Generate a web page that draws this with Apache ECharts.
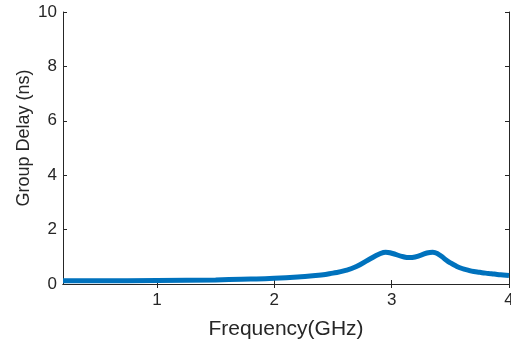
<!DOCTYPE html>
<html>
<head>
<meta charset="utf-8">
<script src="https://cdn.jsdelivr.net/npm/echarts@6/dist/echarts.min.js"></script>
<style>
  html, body { margin: 0; padding: 0; background: #fff; }
  #chart { width: 511px; height: 347px; }
</style>
</head>
<body>
<div id="chart"></div>
<script>
// Group delay of the filter versus frequency
const frequencyGHz = [0.2, 0.5, 1.0, 1.5, 1.8, 2.0, 2.2, 2.4, 2.5, 2.6, 2.7, 2.8, 2.9, 2.95, 3.0, 3.1, 3.15, 3.2, 3.3, 3.35, 3.4, 3.45, 3.5, 3.55, 3.6, 3.65, 3.7, 3.75, 3.8, 3.85, 3.9, 3.95, 4.0];
const groupDelayNs = [0.12, 0.12, 0.13, 0.15, 0.18, 0.21, 0.26, 0.33, 0.40, 0.49, 0.64, 0.88, 1.11, 1.17, 1.13, 1.00, 0.97, 0.99, 1.14, 1.17, 1.09, 0.93, 0.78, 0.66, 0.57, 0.51, 0.46, 0.43, 0.40, 0.38, 0.35, 0.33, 0.31];

const xTicks = [1, 2, 3, 4];
const yTicks = [0, 2, 4, 6, 8, 10];

const points = frequencyGHz.map((f, i) => [f, groupDelayNs[i]]);

const ink = '#262626';
const font = '"Liberation Sans", Arial, sans-serif';

const chart = echarts.init(document.getElementById('chart'), null, { renderer: 'canvas' });

const boxLine = { show: true, lineStyle: { color: ink, width: 1 } };
const innerTick = (vals) => ({ show: true, inside: true, length: 4, customValues: vals, lineStyle: { color: ink } });

chart.setOption({
  animation: false,
  backgroundColor: '#fff',
  grid: { left: 63, right: 2, top: 12, bottom: 63, containLabel: false, outerBoundsMode: 'none' },
  xAxis: [
    {
      type: 'value', min: 0.2, max: 4, position: 'bottom',
      axisLine: boxLine,
      axisTick: innerTick(xTicks),
      axisLabel: { customValues: xTicks, color: ink, fontFamily: font, fontSize: 17, margin: 8 },
      splitLine: { show: false },
      name: 'Frequency(GHz)', nameLocation: 'middle', nameGap: 35, nameMoveOverlap: false,
      nameTextStyle: { color: ink, fontFamily: font, fontSize: 21 }
    },
    {
      type: 'value', min: 0.2, max: 4, position: 'top',
      axisLine: boxLine,
      axisTick: innerTick(xTicks),
      axisLabel: { show: false },
      splitLine: { show: false }
    }
  ],
  yAxis: [
    {
      type: 'value', min: 0, max: 10, interval: 2, position: 'left',
      axisLine: boxLine,
      axisTick: innerTick(yTicks),
      axisLabel: { customValues: yTicks, color: ink, fontFamily: font, fontSize: 17, margin: 6 },
      splitLine: { show: false },
      name: 'Group Delay (ns)', nameLocation: 'middle', nameGap: 30, nameMoveOverlap: false,
      nameTextStyle: { color: ink, fontFamily: font, fontSize: 18, padding: [0, 0, 0, 20] }
    },
    {
      type: 'value', min: 0, max: 10, interval: 2, position: 'right',
      axisLine: boxLine,
      axisTick: innerTick(yTicks),
      axisLabel: { show: false },
      splitLine: { show: false }
    }
  ],
  series: [
    {
      type: 'line',
      data: points,
      smooth: 0.5,
      showSymbol: false,
      clip: true,
      lineStyle: { color: '#0072BD', width: 5 },
      z: 1
    }
  ]
});
</script>
</body>
</html>
